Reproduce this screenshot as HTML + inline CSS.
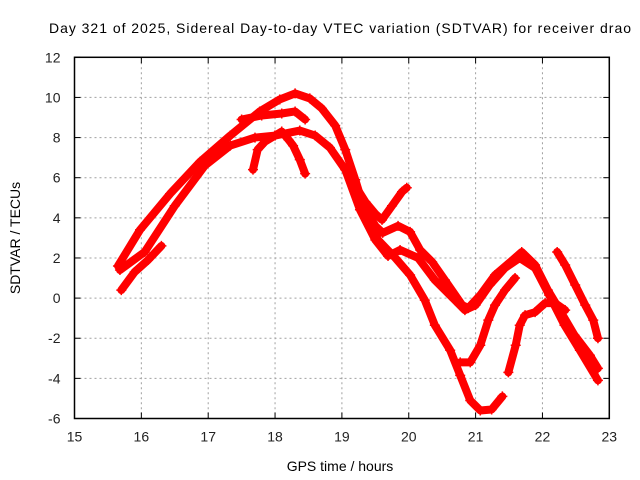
<!DOCTYPE html>
<html><head><meta charset="utf-8"><style>
html,body{margin:0;padding:0;background:#fff}
svg{display:block;font-family:"Liberation Sans",Arial,sans-serif}
</style></head><body>
<svg id="chart" width="640" height="480" viewBox="0 0 640 480" xmlns="http://www.w3.org/2000/svg">
<rect width="640" height="480" fill="#fff"/>
<text x="340" y="33" font-size="14" text-anchor="middle" textLength="582">Day 321 of 2025, Sidereal Day-to-day VTEC variation (SDTVAR) for receiver drao</text>
<text x="340" y="471" font-size="14" text-anchor="middle">GPS time / hours</text>
<text transform="translate(20,238) rotate(-90)" font-size="14" text-anchor="middle">SDTVAR / TECUs</text>
<g id="grid"></g><g id="series"></g><g id="axes"></g>
</svg>
<script>
const xTicks=[15,16,17,18,19,20,21,22,23];
const yTicks=[-6,-4,-2,0,2,4,6,8,10,12];
const trackA=[[15.65,1.6],[15.98,3.4],[16.43,5.2],[16.88,6.8],[17.33,8.1],[17.77,9.3],[18.07,9.9],[18.3,10.2],[18.52,9.95],[18.7,9.45],[18.9,8.6],[19.05,7.4],[19.2,5.9],[19.32,4.6],[19.5,3.6],[19.61,3.25],[19.84,3.6],[20.02,3.3],[20.17,2.4],[20.35,1.8],[20.54,0.9],[20.8,-0.35],[20.89,-0.5],[21.07,0.15],[21.29,1.15],[21.52,1.8],[21.69,2.3],[21.89,1.65],[22.08,0.4],[22.26,-0.6],[22.48,-1.85],[22.71,-2.85],[22.83,-3.5]];
const trackB=[[15.68,1.4],[16.05,2.3],[16.5,4.6],[16.95,6.6],[17.33,7.6],[17.7,8.0],[18.0,8.1],[18.37,8.35],[18.6,8.1],[18.82,7.5],[19.05,6.4],[19.27,4.4],[19.5,2.9],[19.69,2.1],[19.87,2.4],[20.14,2.0],[20.39,0.9],[20.69,-0.1],[20.84,-0.6],[21.0,-0.35],[21.21,0.65],[21.44,1.5],[21.66,2.0],[21.89,1.5],[22.1,0.15],[22.33,-1.35],[22.56,-2.6],[22.83,-4.1]];
const trackC=[[19.3,4.8],[19.54,2.9],[19.8,2.0],[20.02,1.15],[20.24,-0.1],[20.39,-1.35],[20.62,-2.6],[20.77,-3.85],[20.92,-5.1],[21.07,-5.6],[21.24,-5.55],[21.4,-4.9]];
const trackD=[[20.77,-3.2],[20.92,-3.2],[21.07,-2.35],[21.19,-1.1],[21.29,-0.35],[21.44,0.4],[21.59,1.0]];
const trackE=[[21.49,-3.7],[21.6,-2.35],[21.66,-1.35],[21.74,-0.85],[21.89,-0.7],[22.04,-0.25],[22.19,-0.25],[22.34,-0.6]];
const trackF=[[22.22,2.3],[22.34,1.65],[22.49,0.65],[22.64,-0.35],[22.76,-1.1],[22.83,-2.0]];
const trackG1=[[17.67,6.4],[17.74,7.4],[17.85,7.8],[18.0,8.1],[18.1,8.3],[18.2,7.9],[18.27,7.6],[18.37,6.9],[18.45,6.2]];
const trackG2=[[17.5,8.9],[17.8,9.1],[18.1,9.2],[18.3,9.3],[18.45,8.9]];
const trackH=[[15.7,0.4],[15.9,1.3],[16.1,1.9],[16.3,2.6]];
const trackI=[[19.2,5.6],[19.35,4.8],[19.5,4.2],[19.6,3.9],[19.75,4.6],[19.9,5.3],[19.97,5.5]];
const tracks=[trackA,trackB,trackC,trackD,trackE,trackF,trackG1,trackG2,trackH,trackI];

const L=74.5,R=609.3,T=57.3,B=418.5,XMIN=15,XMAX=23,YMIN=-6,YMAX=12;
const sx=v=>L+(v-XMIN)/(XMAX-XMIN)*(R-L);
const sy=v=>B-(v-YMIN)/(YMAX-YMIN)*(B-T);
const NS='http://www.w3.org/2000/svg';
function mk(tag,attrs,parent){const e=document.createElementNS(NS,tag);for(const k in attrs)e.setAttribute(k,attrs[k]);parent.appendChild(e);return e;}
const grid=document.getElementById('grid'),ser=document.getElementById('series'),ax=document.getElementById('axes');
xTicks.forEach(t=>{
  const x=sx(t);
  if(t>XMIN&&t<XMAX){const g=mk('line',{x1:x,y1:T,x2:x,y2:B,stroke:'#a0a0a0','stroke-dasharray':'2,3','stroke-width':1},grid);
  
  }
  const a=mk('line',{x1:x,y1:B,x2:x,y2:B-6,stroke:'#000','stroke-width':1},ax);
  
  
  mk('line',{x1:x,y1:T,x2:x,y2:T+6,stroke:'#000','stroke-width':1},ax);
  const lb=mk('text',{x:x,y:B+23,'font-size':14,'text-anchor':'middle',fill:'#222'},ax);lb.textContent=t;
  
  
});
yTicks.forEach(t=>{
  const y=sy(t);
  if(t>YMIN&&t<YMAX){const g=mk('line',{x1:L,y1:y,x2:R,y2:y,stroke:'#a0a0a0','stroke-dasharray':'2,3','stroke-width':1},grid);
  
  }
  const a=mk('line',{x1:L,y1:y,x2:L+6,y2:y,stroke:'#000','stroke-width':1},ax);
  
  
  mk('line',{x1:R,y1:y,x2:R-6,y2:y,stroke:'#000','stroke-width':1},ax);
  const lb=mk('text',{x:L-14,y:y+5,'font-size':14,'text-anchor':'end',fill:'#222'},ax);lb.textContent=t;
  
  
});
const fr=mk('rect',{x:L,y:T,width:R-L,height:B-T,fill:'none',stroke:'#000','stroke-width':1.5},ax);


tracks.forEach((tr,i)=>{
  const p=mk('polyline',{points:tr.map(d=>sx(d[0])+','+sy(d[1])).join(' '),fill:'none',stroke:'#f00','stroke-width':8,'stroke-linejoin':'round','stroke-linecap':'round'},ser);
  
  
  tr.forEach(d=>{
    const x=sx(d[0]),y=sy(d[1]);
    const m=mk('path',{d:`M${x-5},${y}H${x+5}M${x},${y-5}V${y+5}`,stroke:'#f00','stroke-width':1.5},ser);
    
    
  });
});
</script>
</body></html>
